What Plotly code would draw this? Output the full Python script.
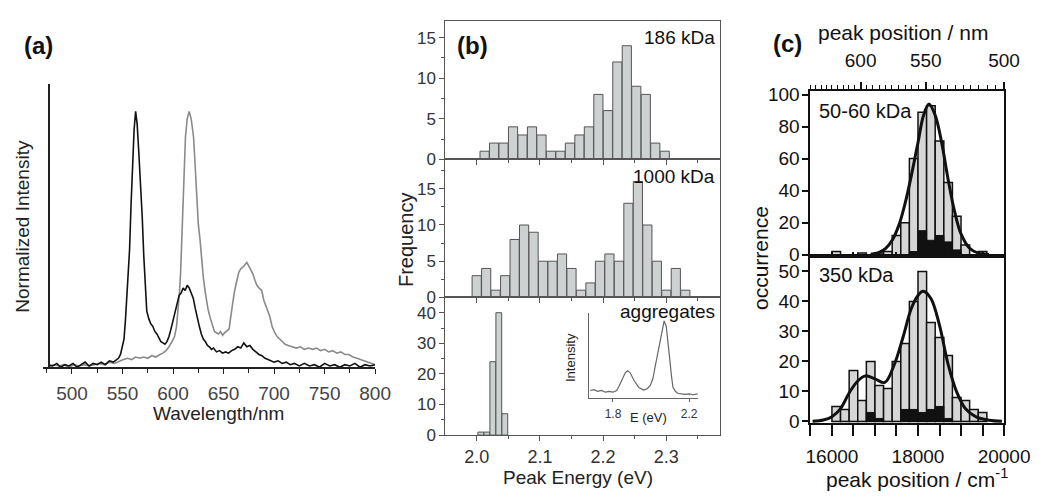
import plotly.graph_objects as go

W, H = 1056, 497
def px(x): return x / W
def py(y): return 1 - y / H

FONT = "Liberation Sans, Arial, sans-serif"

# ---------------- panel (a) data ----------------
a_black_nm = [477,481,485,489,493,497,501,505,509,513,517,521,525,529,533,537,541,544,546,548,550,551.5,553,555,557,558.5,560,561.5,563,564.5,566,568,569.5,571,572.5,574,576,578,580,582,584,586,588,590,592,594,596,598,600,602,604,606,608,610,612,614,616,618,620,622,624,626,628,630,632,634,636,638,640,643,646,649,652,655,658,661,664,667,670,673,676,679,682,685,688,691,694,697,700,704,708,712,716,720,725,730,735,740,745,750,755,760,765,770,775,780,785,790,795,800]
a_black_int = [0.01,0.005,0.015,0.0,0.01,0.005,0.015,0.0,0.01,0.02,0.005,0.015,0.01,0.02,0.01,0.025,0.02,0.03,0.035,0.05,0.08,0.11,0.19,0.32,0.46,0.64,0.80,0.93,1.0,0.95,0.85,0.71,0.59,0.44,0.31,0.22,0.19,0.17,0.16,0.14,0.13,0.115,0.10,0.095,0.09,0.10,0.12,0.15,0.18,0.22,0.25,0.28,0.29,0.31,0.30,0.32,0.31,0.29,0.27,0.23,0.19,0.16,0.13,0.11,0.10,0.085,0.08,0.07,0.075,0.06,0.065,0.055,0.06,0.055,0.065,0.07,0.08,0.075,0.095,0.08,0.085,0.07,0.06,0.05,0.045,0.035,0.03,0.025,0.02,0.025,0.015,0.02,0.01,0.015,0.005,0.015,0.005,0.01,0.0,0.015,0.005,0.01,0.0,0.01,0.005,0.015,0.0,0.01,0.005,0.01]

a_gray_nm = [477,482,487,492,497,502,507,512,517,522,527,532,537,542,547,551,555,559,563,567,571,575,579,583,587,590,593,596,599,601.5,603.5,605,606.5,607.5,608.5,609.7,611,612.3,614,616,618,620.3,622,623.4,625,626.7,628.5,630,632,634.7,637,639,641,643,645,647,649,651,653,655.5,657,659,661,663,665,667,669,671,673,675,677,679,681,683,685,687.7,690,692,694,695.6,698,700.4,703,706,708.5,711,714,718,722,726,730,734,738,742,746,750,754,758,762,766,770,774,778,782,786,790,794,798,800]
a_gray_int = [0.0,0.01,0.005,0.01,0.0,0.01,0.005,0.01,0.005,0.01,0.015,0.01,0.02,0.015,0.025,0.03,0.035,0.03,0.04,0.035,0.04,0.035,0.045,0.04,0.05,0.055,0.065,0.08,0.10,0.12,0.16,0.22,0.30,0.37,0.5,0.65,0.78,0.9,0.97,1.0,0.97,0.9,0.78,0.65,0.56,0.5,0.41,0.35,0.29,0.225,0.19,0.165,0.14,0.135,0.13,0.14,0.125,0.135,0.14,0.15,0.2,0.25,0.30,0.34,0.37,0.385,0.39,0.40,0.41,0.395,0.38,0.365,0.34,0.32,0.31,0.3,0.26,0.24,0.22,0.2,0.16,0.137,0.12,0.11,0.10,0.09,0.085,0.08,0.075,0.08,0.07,0.075,0.07,0.075,0.065,0.07,0.06,0.065,0.055,0.06,0.05,0.05,0.04,0.035,0.03,0.025,0.02,0.015,0.01]
a_xticks = [500, 550, 600, 650, 700, 750, 800]

# ---------------- panel (b) data ----------------
b186_energy = [2.0125,2.0275,2.0425,2.0575,2.0725,2.0875,2.1025,2.1175,2.1325,2.1475,2.1625,2.1775,2.1925,2.2075,2.2225,2.2375,2.2525,2.2675,2.2825,2.2975]
b186_freq = [1,2,2,4,3,4,3,1,1,2,3,4,8,6,12,14,9,8,2,1]
b1000_energy = [2.000,2.015,2.030,2.045,2.060,2.075,2.090,2.105,2.120,2.135,2.150,2.165,2.180,2.195,2.210,2.225,2.240,2.255,2.270,2.285,2.300,2.315,2.330]
b1000_freq = [3,4,1,3,8,10,9,5,5,6,4,1,2,5,6,5,13,16,10,5,1,4,1]
bagg_energy = [2.0065,2.016,2.0255,2.035,2.0445]
bagg_freq = [1,1,24,40,7]
b_xticks = [2.0, 2.1, 2.2, 2.3]
b_xticklabels = ["2.0", "2.1", "2.2", "2.3"]
b_yticks_small = [0, 5, 10, 15]
b_yticks_agg = [0, 10, 20, 30, 40]

inset_E = [1.68,1.70,1.72,1.74,1.76,1.78,1.80,1.82,1.834,1.851,1.865,1.877,1.89,1.91,1.936,1.961,1.98,1.996,2.01,2.021,2.035,2.047,2.058,2.069,2.08,2.09,2.098,2.107,2.115,2.128,2.14,2.16,2.18,2.20,2.22,2.245]
inset_I = [0.09,0.10,0.08,0.09,0.07,0.08,0.07,0.09,0.15,0.245,0.30,0.32,0.30,0.21,0.125,0.094,0.11,0.15,0.23,0.36,0.52,0.68,0.82,0.906,0.84,0.66,0.47,0.27,0.13,0.08,0.057,0.05,0.045,0.05,0.04,0.05]
inset_xticks = [1.8, 2.2]

# ---------------- panel (c) data ----------------
c_bin_center = [16100,16300,16500,16700,16900,17100,17300,17500,17700,17900,18100,18300,18500,18700,18900,19100,19300,19500]
c_top_all = [2,0,0,1,0,1,2,12,20,60,89,93,71,45,24,6,0,2]
c_top_black = [0,0,0,0,0,0,0,0,0,2,15,9,12,8,3,0,0,0]
c_bot_all = [5,4,17,7,20,12,11,20,26,40,50,33,28,22,8,7,4,3]
c_bot_black = [0,0,0,0,3,1,0,0,4,4,3,4,5,1,0,0,0,0]
c_top_fit_x = [16900,17100,17250,17400,17550,17700,17850,18000,18130,18255,18400,18550,18700,18850,19000,19200,19400,19650]
c_top_fit_y = [0.3,1.5,4,9,18,32,50,70,87,94,87,70,47,27,13,4,1,0.2]
c_bot_fit_x = [15550,15800,16000,16200,16400,16600,16780,17000,17230,17450,17650,17840,18000,18120,18300,18500,18700,18900,19100,19350,19650,19950]
c_bot_fit_y = [0.1,0.5,1.6,4.3,9.5,13.5,15.2,14.2,13.0,19,28,37.5,42,43.4,41,32,19,9.8,4.3,1.5,0.4,0.05]
c_xticks = [16000, 18000, 20000]
c_xticklabels = ["16000", "18000", "20000"]
c_top_yticks = [0, 20, 40, 60, 80, 100]
c_bot_yticks = [0, 10, 20, 30, 40, 50]
c_nm_labels = [600, 550, 500]
c_nm_minor = [645,640,635,630,625,620,615,610,605,595,590,585,580,575,570,565,560,555,545,540,535,530,525,520,515,510,505]

fig = go.Figure()

# panel (a)
fig.add_trace(go.Scatter(x=a_gray_nm, y=a_gray_int, mode="lines",
                         line=dict(color="#8a8a8a", width=1.6), xaxis="x", yaxis="y"))
fig.add_trace(go.Scatter(x=a_black_nm, y=a_black_int, mode="lines",
                         line=dict(color="#111111", width=1.6), xaxis="x", yaxis="y"))

# panel (b)
bar_style = dict(color="#cdd1d1", line=dict(color="#555555", width=1))
fig.add_trace(go.Bar(x=b186_energy, y=b186_freq, width=0.0145, marker=bar_style, xaxis="x2", yaxis="y2"))
fig.add_trace(go.Bar(x=b1000_energy, y=b1000_freq, width=0.0145, marker=bar_style, xaxis="x3", yaxis="y3"))
fig.add_trace(go.Bar(x=bagg_energy, y=bagg_freq, width=0.0092, marker=bar_style, xaxis="x4", yaxis="y4"))
fig.add_trace(go.Scatter(x=inset_E, y=inset_I, mode="lines",
                         line=dict(color="#666666", width=1.2), xaxis="x5", yaxis="y5"))

# panel (c)
gbar = dict(color="#d6d6d6", line=dict(color="#111111", width=1.5))
kbar = dict(color="#111111", line=dict(color="#111111", width=1))
fig.add_trace(go.Bar(x=c_bin_center, y=c_top_all, width=200, marker=gbar, xaxis="x6", yaxis="y6"))
fig.add_trace(go.Bar(x=c_bin_center, y=c_top_black, width=200, marker=kbar, xaxis="x6", yaxis="y6"))
fig.add_trace(go.Scatter(x=c_top_fit_x, y=c_top_fit_y, mode="lines", line=dict(color="#111111", width=3, shape="spline"),
                         xaxis="x6", yaxis="y6"))
fig.add_trace(go.Bar(x=c_bin_center, y=c_bot_all, width=200, marker=gbar, xaxis="x7", yaxis="y7"))
fig.add_trace(go.Bar(x=c_bin_center, y=c_bot_black, width=200, marker=kbar, xaxis="x7", yaxis="y7"))
fig.add_trace(go.Scatter(x=c_bot_fit_x, y=c_bot_fit_y, mode="lines", line=dict(color="#111111", width=3, shape="spline"),
                         xaxis="x7", yaxis="y7"))
# dummy trace so the top nm axis exists
fig.add_trace(go.Scatter(x=[18000], y=[None], mode="markers", xaxis="x8", yaxis="y6", hoverinfo="skip"))

common = dict(showgrid=False, zeroline=False)

layout = dict(
    width=W, height=H, margin=dict(l=0, r=0, t=0, b=0), autosize=False,
    paper_bgcolor="white", plot_bgcolor="rgba(0,0,0,0)", showlegend=False,
    barmode="overlay", font=dict(family=FONT, color="#222"),
    # (a)
    xaxis=dict(domain=[px(40), px(382)], range=[471.2, 800], anchor="y",
               showline=True, linecolor="#222", linewidth=1.5,
               ticks="outside", ticklen=5, tickwidth=1.2, tickcolor="#222",
               tickmode="array", tickvals=a_xticks,
               tickfont=dict(size=19, color="#444"), ticklabelstandoff=3,
               minor=dict(tickmode="linear", tick0=525, dtick=50, ticks="outside", ticklen=4, tickwidth=1.2, tickcolor="#222"),
               **common),
    yaxis=dict(domain=[py(373), py(80)], range=[0, 1.106], anchor="free", position=px(46),
               showline=True, linecolor="#222", linewidth=1.5, showticklabels=False, ticks="", **common),
    # (b) top
    xaxis2=dict(domain=[px(454.3), px(737)], range=[1.9505, 2.385], anchor="y2",
                showline=True, mirror=True, linecolor="#555", linewidth=1,
                ticks="outside", ticklen=5, tickcolor="#555", tickmode="array", tickvals=b_xticks,
                showticklabels=False,
                minor=dict(tickmode="linear", tick0=2.05, dtick=0.1, ticks="outside", ticklen=3, tickcolor="#555"),
                **common),
    yaxis2=dict(domain=[py(157.7), py(14.3)], range=[0, 17.07], anchor="x2",
                showline=True, mirror=True, linecolor="#555", linewidth=1,
                ticks="outside", ticklen=5, tickcolor="#555", tickmode="array", tickvals=b_yticks_small,
                tickfont=dict(size=17, color="#333"),
                minor=dict(tickmode="linear", tick0=2.5, dtick=5, ticks="outside", ticklen=3, tickcolor="#555"),
                **common),
    xaxis3=dict(domain=[px(454.3), px(737)], range=[1.9505, 2.385], anchor="y3",
                showline=True, mirror=True, linecolor="#555", linewidth=1,
                ticks="outside", ticklen=5, tickcolor="#555", tickmode="array", tickvals=b_xticks,
                showticklabels=False,
                minor=dict(tickmode="linear", tick0=2.05, dtick=0.1, ticks="outside", ticklen=3, tickcolor="#555"),
                **common),
    yaxis3=dict(domain=[py(300.7), py(157.7)], range=[0, 19.07], anchor="x3",
                showline=True, mirror=True, linecolor="#555", linewidth=1,
                ticks="outside", ticklen=5, tickcolor="#555", tickmode="array", tickvals=b_yticks_small,
                tickfont=dict(size=17, color="#333"),
                minor=dict(tickmode="linear", tick0=2.5, dtick=5, ticks="outside", ticklen=3, tickcolor="#555"),
                **common),
    xaxis4=dict(domain=[px(454.3), px(737)], range=[1.9505, 2.385], anchor="y4",
                showline=True, mirror=True, linecolor="#555", linewidth=1,
                ticks="outside", ticklen=5, tickcolor="#555", tickmode="array", tickvals=b_xticks,
                ticktext=b_xticklabels, tickfont=dict(size=18, color="#333"),
                minor=dict(tickmode="linear", tick0=2.05, dtick=0.1, ticks="outside", ticklen=3, tickcolor="#555"),
                **common),
    yaxis4=dict(domain=[py(443.3), py(300.7)], range=[0, 45], anchor="x4",
                showline=True, mirror=True, linecolor="#555", linewidth=1,
                ticks="outside", ticklen=5, tickcolor="#555", tickmode="array", tickvals=b_yticks_agg,
                tickfont=dict(size=17, color="#333"),
                minor=dict(tickmode="linear", tick0=5, dtick=10, ticks="outside", ticklen=3, tickcolor="#555"),
                **common),
    # inset
    xaxis5=dict(domain=[px(602.3), px(714.3)], range=[1.675, 2.247], anchor="y5",
                showline=True, linecolor="#666", linewidth=1,
                ticks="outside", ticklen=3, tickcolor="#666", tickmode="array", tickvals=inset_xticks,
                tickfont=dict(size=12, color="#333"), ticklabelstandoff=1, **common),
    yaxis5=dict(domain=[py(405), py(316.7)], range=[0, 1], anchor="x5",
                showline=True, linecolor="#666", linewidth=1, showticklabels=False, ticks="", **common),
    # (c) top
    xaxis6=dict(domain=[px(830), px(1029.3)], range=[15500, 20000], anchor="y6",
                showline=True, mirror=True, linecolor="#111", linewidth=2,
                ticks="inside", ticklen=4, tickwidth=1.5, tickcolor="#111",
                tickmode="linear", tick0=15500, dtick=500, showticklabels=False, **common),
    yaxis6=dict(domain=[py(258.3), py(87.3)], range=[-1.1, 102], anchor="x6",
                showline=True, mirror=True, linecolor="#111", linewidth=2,
                ticks="outside", ticklen=6, tickwidth=2, tickcolor="#111",
                tickmode="array", tickvals=c_top_yticks, tickfont=dict(size=19, color="#111"),
                ticklabelstandoff=-1, **common),
    xaxis7=dict(domain=[px(830), px(1029.3)], range=[15500, 20000], anchor="y7",
                showline=True, mirror=True, linecolor="#111", linewidth=2,
                ticks="outside", ticklen=11, tickwidth=2, tickcolor="#111",
                tickmode="array", tickvals=c_xticks, ticktext=c_xticklabels,
                tickfont=dict(size=19, color="#111"), ticklabelstandoff=4,
                minor=dict(tickmode="linear", tick0=15500, dtick=500, ticks="outside", ticklen=11, tickwidth=2, tickcolor="#111"),
                **common),
    yaxis7=dict(domain=[py(430.7), py(258.3)], range=[-0.5, 55], anchor="x7",
                showline=True, mirror=True, linecolor="#111", linewidth=2,
                ticks="outside", ticklen=6, tickwidth=2, tickcolor="#111",
                tickmode="array", tickvals=c_bot_yticks, tickfont=dict(size=19, color="#111"),
                ticklabelstandoff=-1, **common),
    xaxis8=dict(overlaying="x6", anchor="y6", side="top", range=[15500, 20000],
                showline=False, ticks="outside", ticklen=8, tickwidth=1.5, tickcolor="#111",
                tickmode="array", tickvals=[1e7 / v for v in c_nm_labels], ticktext=[str(v) for v in c_nm_labels],
                tickfont=dict(size=19, color="#111"), ticklabelstandoff=8,
                minor=dict(tickmode="array", tickvals=[1e7 / v for v in c_nm_minor], ticks="outside",
                           ticklen=5, tickwidth=1.2, tickcolor="#111"),
                **common),
)
fig.update_layout(**layout)

def ann(text, x, y, size, color="#111", bold=False, angle=0, xanchor="center", yanchor="middle"):
    t = f"<b>{text}</b>" if bold else text
    fig.add_annotation(text=t, x=px(x), y=py(y), xref="paper", yref="paper", showarrow=False,
                       font=dict(size=size, color=color, family=FONT), textangle=angle,
                       xanchor=xanchor, yanchor=yanchor)

ann("(a)", 36, 40, 24, bold=True)
ann("Normalized Intensity", 19, 227, 19, color="#222", angle=-90)
ann("Wavelength/nm", 221, 421, 19, color="#222")

ann("(b)", 482, 40, 24, bold=True)
ann("186 kDa", 734, 32, 19, xanchor="right")
ann("1000 kDa", 734, 175, 19, xanchor="right")
ann("aggregates", 734, 315, 19, xanchor="right")
ann("Frequency", 413, 241, 20, color="#222", angle=-90)
ann("Peak Energy (eV)", 591, 487, 19, color="#222")
ann("Intensity", 583, 363, 13, color="#222", angle=-90)
ann("E (eV)", 663, 425, 13, color="#222")

ann("(c)", 806, 38, 24, bold=True)
ann("peak position / nm", 925, 26, 21)
ann("50-60 kDa", 837, 108, 20, xanchor="left")
ann("350 kDa", 837, 278, 20, xanchor="left")
ann("occurrence", 778, 260, 21, angle=-90)
ann("peak position / cm<sup>-1</sup>", 940, 488, 21)

fig.write_html(
    "out.html",
    config={"displayModeBar": False},
    post_script="document.documentElement.style.margin='0';document.body.style.margin='0';"
                "document.body.style.padding='0';document.documentElement.style.overflow='hidden';"
                "document.body.style.overflow='hidden';",
)
